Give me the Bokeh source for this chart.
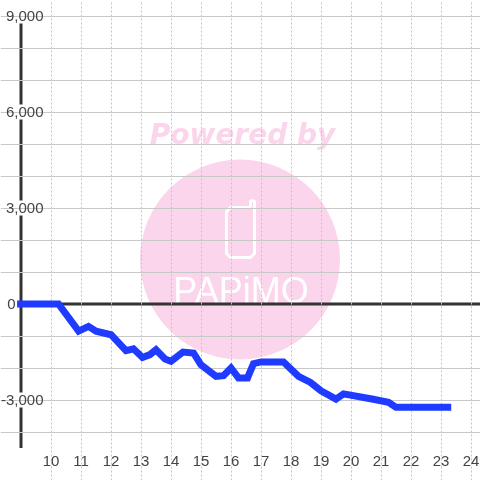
from bokeh.embed import file_html
from bokeh.resources import INLINE
from bokeh.plotting import figure
from bokeh.models import (Range1d, LinearAxis, FixedTicker, Grid, NumeralTickFormatter)
from bokeh.core.properties import value

hours = [8.87, 10.25, 10.92, 11.25, 11.5, 12, 12.5, 12.75, 13.05, 13.3, 13.5, 13.8, 14, 14.4, 14.75,
         15, 15.5, 15.75, 16, 16.25, 16.55, 16.75, 17, 17.75, 18.25, 18.65, 19, 19.5, 19.75,
         20.7, 21.25, 21.5, 23.34]
balance = [0, 0, -850, -700, -850, -960, -1460, -1400, -1670, -1580, -1430, -1720, -1790, -1500, -1530,
           -1900, -2260, -2240, -2000, -2310, -2310, -1865, -1810, -1810, -2260, -2450, -2710, -2970, -2810,
           -2970, -3070, -3230, -3230]
x_ticks = list(range(10, 25))
y_labels = [9000, 6000, 3000, -3000]
y_zero = [0]
y_grid = [9000, 8000, 7000, 6000, 5000, 4000, 3000, 2000, 1000, -1000, -2000, -3000, -4000]
Y_MIN, Y_MAX = -4500, 9000

X0 = 9 - 20.5 / 30
Y_TOP = 303.5 * 3000 / 96


def px(v):
    return X0 + v / 30


def py(v):
    return Y_TOP - v * 3000 / 96


p = figure(width=480, height=480, output_backend="svg", toolbar_location=None,
           x_range=Range1d(X0, X0 + 16), y_range=Range1d(Y_TOP - 15000, Y_TOP),
           x_axis_type=None, y_axis_type=None, min_border=0,
           outline_line_color=None, background_fill_color="white")
p.styles = {"position": "fixed", "left": "0px", "top": "0px"}

# watermark
PINK = "#fbd5ec"
p.circle(x=[px(239.5)], y=[py(259)], radius=100 / 30, fill_color=PINK, line_color=None, level="image")
p.text(x=[px(242)], y=[py(134)], text=["Powered by"], text_font=value("DejaVu Sans"),
       text_font_style="bold italic", text_font_size="28px", text_color=PINK,
       text_align="center", text_baseline="middle", level="image")
p.text(x=[px(240.5)], y=[py(290)], text=["PAPiMO"], text_font=value("Liberation Sans"),
       text_font_size="36px", text_color="white",
       text_align="center", text_baseline="middle", level="image")
phone_x = [250, 230, 226, 226, 230, 250, 254, 254, 252, 250, 250]
phone_y = [207, 207, 211, 253, 257, 257, 253, 201, 200, 201, 207]
p.line(x=[px(v) for v in phone_x], y=[py(v) for v in phone_y], line_color="white", line_width=3,
       line_join="round", level="image")

# grids
vgrid = Grid(dimension=0, ticker=FixedTicker(ticks=x_ticks), grid_line_color="#c4c4c4", grid_line_width=1,
             grid_line_dash="2 2", bounds=(Y_MIN, Y_MAX))
hgrid = Grid(dimension=1, ticker=FixedTicker(ticks=y_grid), grid_line_color="#c8c8c8", grid_line_width=1,
             bounds=(9, X0 + 16))
p.add_layout(vgrid)
p.add_layout(hgrid)

# y axis line and zero line
p.segment(x0=[9], y0=[Y_MIN], x1=[9], y1=[Y_MAX], line_color="#333333", line_width=3, level="underlay")
p.segment(x0=[9], y0=[0], x1=[X0 + 16], y1=[0], line_color="#333333", line_width=3, level="underlay")
# label backgrounds hide axis + grid behind labels
p.rect(x=[px(23)] * len(y_labels), y=y_labels, width=44, height=15, width_units="screen", height_units="screen",
       fill_color="white", line_color=None, level="underlay")

p.line(hours, balance, line_color="#1f3bff", line_width=7, line_join="miter")

LABEL = dict(major_tick_line_color=None, minor_tick_line_color=None, axis_line_color=None,
             major_label_text_font="Liberation Sans", major_label_text_font_size="15px",
             major_label_text_color="#444444")

xaxis = LinearAxis(ticker=FixedTicker(ticks=x_ticks), fixed_location=Y_MIN, major_label_standoff=2, **LABEL)
yaxis = LinearAxis(ticker=FixedTicker(ticks=y_labels), fixed_location=px(50), major_label_standoff=1,
                   formatter=NumeralTickFormatter(format="0,0"), **LABEL)
zaxis = LinearAxis(ticker=FixedTicker(ticks=y_zero), fixed_location=px(22), major_label_standoff=1, **LABEL)
p.add_layout(xaxis, "below")
p.add_layout(yaxis, "left")
p.add_layout(zaxis, "left")

open("out.html", "w").write(file_html(p, INLINE))
